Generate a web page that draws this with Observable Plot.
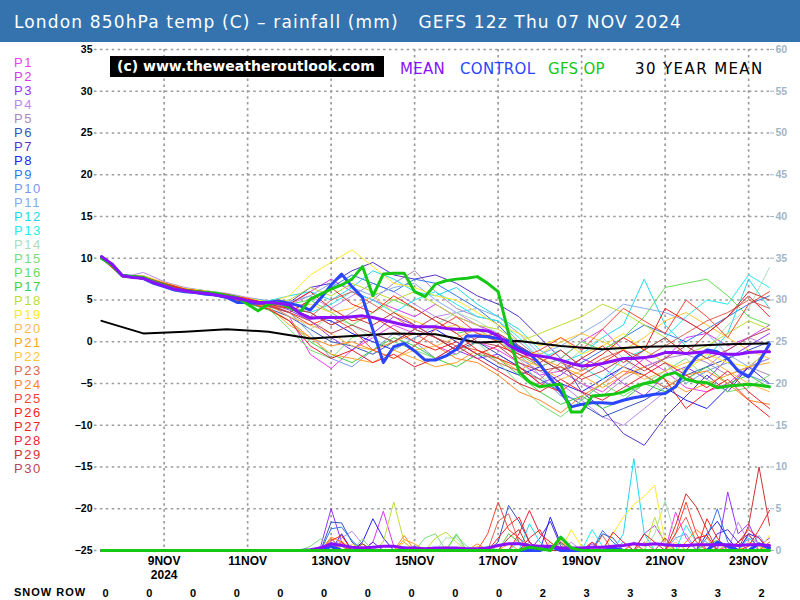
<!DOCTYPE html>
<html><head><meta charset="utf-8">
<script src="https://cdn.jsdelivr.net/npm/d3@7"></script>
<script src="https://cdn.jsdelivr.net/npm/@observablehq/plot@0.6"></script>
<style>
body{margin:0;background:#fff;}
#wrap{position:relative;width:800px;height:600px;overflow:hidden;font-family:"DejaVu Sans",sans-serif;background:#fff;}
#hdr{position:absolute;left:0;top:0;width:800px;height:42px;background:#3473ae;color:#fff;font-size:17px;letter-spacing:1.15px;line-height:45px;padding-left:14px;box-sizing:border-box;white-space:pre;}
#chart{position:absolute;left:0;top:42px;}
#legend{position:absolute;left:14px;top:56px;font-family:"Liberation Sans",sans-serif;font-size:13px;line-height:14.02px;letter-spacing:1.6px;}
#legend div{height:14.02px;}
#copy{position:absolute;left:110px;top:56px;width:274px;height:21px;background:#000;color:#fff;font-family:"DejaVu Sans",sans-serif;font-weight:bold;font-size:14px;line-height:21px;padding-left:7px;box-sizing:border-box;white-space:pre;}
.key{position:absolute;top:60px;font-family:"DejaVu Sans",sans-serif;font-size:15px;letter-spacing:0.3px;line-height:18px;white-space:pre;}
#snowlab{position:absolute;left:14px;top:586px;font-family:"Liberation Sans",sans-serif;font-weight:bold;font-size:11px;letter-spacing:1px;}
#snow{position:absolute;left:0;top:583px;}
</style></head>
<body><div id="wrap">
<div id="hdr">London 850hPa temp (C) – rainfall (mm)   GEFS 12z Thu 07 NOV 2024</div>
<div id="chart"></div>
<div id="legend"></div>
<div id="copy">(c) www.theweatheroutlook.com</div>
<div class="key" style="left:400px;color:#8a10ff">MEAN</div>
<div class="key" style="left:460px;color:#2a46ff">CONTROL</div>
<div class="key" style="left:548px;color:#14c814">GFS OP</div>
<div class="key" style="left:635px;color:#000;letter-spacing:1.4px">30 YEAR MEAN</div>
<div id="snowlab">SNOW ROW</div>
<div id="snow"></div>
</div>
<script>
// ---------- data ----------
const memberNames = d3.range(1, 31).map(i => "P" + i);
const memberColors = ["#f03cf0","#d838ee","#9a30ff","#bb88ee","#aa88bb","#3355bb","#5533cc","#2222ee","#3377ee","#7799ee",
  "#88aaee","#22d8ee","#22eeee","#aaddbb","#77dd77","#66dd55","#44cc44","#bbdd33","#ffe822","#ffbb44",
  "#ffa422","#ffc833","#dd6655","#ff8822","#ff4433","#ff2222","#ee2222","#ee2233","#cc3333","#bb4455"];

// 12-hourly 850hPa temps per member, from 7 Nov 12z
const P1 =[10.3,7.8,7.9,7.0,6.3,6.0,5.6,5.0,4.5,3.0,-1.5,-3.2,-1.0,0.5,2.0,1.0,-0.5,-1.5,0.0,-1.0,-2.5,-4.0,-3.5,-5.0,-6.0,-4.0,-2.0,-3.5,-5.5,-6.0,-5.0,-3.0,-2.0];
const P2 =[10.1,7.9,7.7,6.9,6.2,5.9,5.4,5.1,4.8,4.5,6.0,7.5,6.0,5.0,4.0,3.0,4.5,3.0,2.0,1.0,-1.0,-3.0,-2.0,0.0,1.5,-1.0,-3.0,-2.0,0.5,1.0,-0.5,0.5,2.0];
const P3 =[10.2,8.0,7.8,7.1,6.4,6.1,5.7,5.2,4.6,3.8,2.5,0.5,-1.0,1.0,3.0,2.0,0.5,-1.0,-2.0,-1.5,-3.0,-5.0,-4.0,-2.0,-3.0,-5.0,-6.5,-4.0,-3.0,-4.5,-2.0,-0.5,1.0];
const P4 =[10.0,7.7,8.3,7.2,6.5,6.1,5.8,5.3,4.9,4.5,5.5,4.0,5.5,7.0,6.0,4.5,3.0,3.5,2.0,0.5,-2.0,-3.5,-5.0,-7.0,-9.0,-10.0,-8.0,-6.0,-4.5,-3.0,-1.0,0.5,-0.5];
const P5 =[10.2,7.9,7.6,7.0,6.2,5.8,5.5,5.0,4.7,4.2,3.5,2.0,3.5,5.0,7.0,8.5,6.0,4.0,3.0,2.5,0.0,-2.0,-3.5,-5.0,-6.5,-4.5,-3.0,-2.0,-1.5,-2.5,-4.0,-3.0,-4.0];
const P6 =[10.1,7.8,7.5,6.8,6.0,5.7,5.4,4.6,4.0,3.0,1.5,0.0,-0.5,-1.5,0.0,1.5,0.5,-1.0,0.0,-1.5,-3.0,-4.5,-6.0,-7.5,-9.0,-8.0,-7.0,-5.5,-4.0,-3.0,-2.0,-1.0,0.0];
const P7 =[10.2,8.0,7.7,6.9,6.1,5.9,5.5,4.9,4.4,4.7,6.5,7.0,8.5,9.5,8.0,7.5,8.0,7.0,5.5,4.5,3.0,0.5,-2.0,-6.0,-8.0,-11.0,-12.4,-9.0,-6.5,-4.0,-6.0,-3.0,-5.0];
const P8 =[10.3,7.9,7.8,7.0,6.3,6.0,5.6,5.1,4.7,4.0,3.0,2.5,1.0,0.0,-1.0,0.5,1.5,0.0,-1.5,-3.0,-4.0,-3.0,-5.0,-6.0,-4.5,-3.0,-4.0,-5.5,-7.0,-8.0,-5.5,-3.0,-1.0];
const P9 =[10.0,7.8,7.6,6.8,6.1,5.8,5.3,4.8,4.2,3.5,5.0,6.5,8.0,7.0,6.0,7.5,7.0,5.5,4.0,2.0,-0.5,-2.0,-3.5,-2.5,-1.0,0.5,2.0,1.0,0.0,1.5,3.0,4.5,5.5];
const P10=[10.1,7.9,7.7,6.9,6.2,5.9,5.5,4.9,4.5,3.5,1.0,-2.0,-3.0,-1.0,1.0,0.0,-2.0,-0.5,1.0,0.5,-1.5,-4.0,-6.5,-7.0,-5.0,-3.0,-1.0,-2.5,-5.0,-3.5,-2.5,-4.0,-5.0];
const P11=[10.2,7.8,7.9,7.0,6.3,6.0,5.6,5.0,4.6,4.8,5.5,7.0,6.5,5.5,6.5,7.0,5.0,3.5,4.0,3.0,1.0,-1.5,-0.5,1.0,2.5,4.5,4.0,3.5,2.5,1.0,-1.5,-3.0,-2.0];
const P12=[10.3,8.0,7.8,7.0,6.4,6.1,5.7,5.2,4.9,5.5,6.0,5.0,6.5,8.5,7.5,6.0,5.5,6.5,4.5,3.0,1.5,-1.0,-2.5,-1.5,0.5,2.0,7.5,2.0,-0.5,-2.0,1.0,7.5,4.0];
const P13=[10.1,7.9,7.6,6.9,6.2,5.9,5.4,4.9,4.5,4.0,3.5,4.5,6.0,5.0,3.5,5.0,6.0,4.5,3.0,2.5,0.5,-2.0,-1.0,-3.0,-4.5,-2.0,-1.0,0.5,3.0,5.0,4.5,8.0,6.5];
const P14=[10.2,7.8,7.7,7.0,6.2,5.9,5.5,5.0,4.6,3.5,1.5,3.0,2.0,0.5,-1.0,0.5,2.0,3.5,2.5,1.0,-2.0,-5.0,-3.0,-1.0,0.5,-2.0,-4.0,-6.0,-3.0,-1.0,2.0,4.0,8.9];
const P15=[10.0,7.7,7.6,6.8,6.0,5.8,5.3,4.7,4.0,1.5,-1.0,-2.0,0.5,1.0,0.0,-1.0,-2.0,-1.5,0.0,-2.5,-5.0,-7.5,-9.0,-7.0,-5.0,-6.5,-5.0,-3.5,-2.0,-4.5,-6.0,-5.5,-4.0];
const P16=[10.2,7.9,7.8,6.9,6.3,6.0,5.6,5.1,4.7,4.5,5.0,3.5,2.0,3.5,5.0,4.0,2.5,1.0,1.5,0.0,-1.5,-3.0,-2.0,0.0,-1.0,0.5,3.0,6.5,7.0,7.5,5.5,3.0,2.0];
const P17=[10.1,7.8,7.5,6.7,6.0,5.7,5.2,4.6,3.8,2.5,0.0,-1.5,-2.5,-1.0,0.5,-0.5,-2.0,-3.0,-1.5,-2.0,-4.0,-6.0,-7.5,-6.5,-8.0,-7.0,-5.0,-6.0,-4.5,-3.0,-5.0,-4.0,-5.5];
const P18=[10.2,8.0,7.8,7.0,6.3,6.0,5.6,5.2,4.8,5.0,6.5,5.5,7.0,6.0,5.0,6.0,4.5,3.0,2.0,1.5,0.0,1.0,2.0,3.0,4.5,3.5,2.0,0.5,-1.5,-0.5,1.0,2.5,1.5];
const P19=[10.3,7.9,7.9,7.1,6.4,6.1,5.7,5.2,4.7,5.5,8.0,9.5,11.0,9.0,7.0,6.5,5.5,5.0,3.5,2.0,1.0,-0.5,0.5,-1.5,-0.5,1.0,-1.0,-2.5,-3.5,-1.5,-2.5,-3.0,-1.0];
const P20=[10.0,7.8,7.6,6.8,6.1,5.8,5.4,4.9,4.4,3.0,2.0,1.0,-0.5,-1.0,-2.0,-1.0,-0.5,0.5,1.5,0.0,-2.0,-3.0,-4.5,-3.5,-2.0,-3.0,-4.5,-3.5,-2.5,-2.0,-3.5,-5.0,-6.0];
const P21=[10.1,7.9,7.7,6.9,6.2,5.9,5.5,4.8,4.2,2.0,0.5,-1.5,-2.0,-2.5,-1.0,-2.0,-3.0,-2.5,-1.0,-2.0,-3.5,-2.0,-3.0,-4.0,-5.5,-4.0,-3.0,-4.5,-6.0,-5.0,-4.0,-3.0,-2.5];
const P22=[10.2,7.8,7.8,7.0,6.3,6.0,5.6,5.1,4.6,4.0,4.5,3.5,4.0,5.5,3.5,2.5,1.5,2.0,1.0,0.5,-1.0,-1.5,0.0,1.0,0.0,-1.0,0.5,2.5,3.5,2.0,0.5,-1.0,-2.0];
const P23=[10.1,7.9,7.5,6.7,6.0,5.7,5.3,4.7,4.3,4.0,3.0,5.0,6.0,4.5,3.0,1.5,0.5,-0.5,-1.0,-2.5,-3.5,-4.5,-2.5,-3.5,-2.0,-1.0,-2.0,-0.5,1.0,2.5,3.5,5.0,4.0];
const P24=[10.2,7.8,7.6,6.8,6.1,5.8,5.4,4.8,4.0,2.5,0.5,-0.5,0.0,-1.0,0.0,1.0,-0.5,-2.0,-2.5,-4.0,-6.0,-7.0,-8.5,-6.5,-5.0,-3.5,-4.0,-5.5,-4.0,-3.5,-5.0,-7.0,-7.5];
const P25=[10.3,8.0,7.8,7.0,6.3,6.0,5.6,5.2,4.5,3.5,2.0,3.0,1.5,-1.0,-2.0,-0.5,1.5,3.0,1.0,0.0,-2.0,-1.0,0.5,-1.0,1.5,4.0,2.5,1.0,5.0,3.0,0.5,4.5,6.0];
const P26=[10.0,7.8,7.6,6.9,6.2,5.9,5.5,4.9,4.3,3.5,5.0,6.5,4.5,3.5,5.5,4.0,2.5,1.0,-1.0,-2.0,-3.0,-5.0,-6.0,-4.0,-2.5,-1.0,-3.0,-4.5,-8.0,-6.0,-4.5,-7.0,-9.0];
const P27=[10.2,7.9,7.7,7.0,6.3,6.0,5.7,5.1,4.6,4.5,6.0,4.0,2.5,3.0,1.5,0.0,-1.0,0.0,-1.5,-0.5,-1.5,-2.5,-1.0,-3.0,-1.5,0.5,-1.0,4.0,2.5,1.0,3.0,5.5,3.0];
const P28=[10.1,7.8,7.5,6.7,6.0,5.7,5.3,4.7,3.9,2.5,-0.5,-2.0,-1.0,-2.5,-1.5,-3.0,-2.0,-0.5,-2.0,-3.5,-5.0,-6.0,-4.5,-6.0,-7.0,-5.5,-4.0,-2.5,-4.0,-5.5,-3.5,-6.0,-8.0];
const P29=[10.2,8.0,7.7,6.9,6.2,5.9,5.5,5.0,4.5,4.0,3.5,2.0,3.0,2.0,3.5,2.0,0.5,-1.0,0.5,1.0,-0.5,-2.0,-3.5,-2.0,-0.5,-2.5,-1.0,0.5,-1.5,1.0,3.0,6.0,5.0];
const P30=[10.1,7.9,7.6,6.8,6.1,5.8,5.4,4.8,4.3,3.5,2.5,1.0,2.0,1.0,0.0,1.5,3.0,2.0,0.0,-0.5,-2.5,-3.5,-3.0,-4.5,-3.5,-2.0,-3.5,-2.0,-0.5,-2.0,-1.0,0.5,1.5];
const memberTemps = [P1,P2,P3,P4,P5,P6,P7,P8,P9,P10,P11,P12,P13,P14,P15,P16,P17,P18,P19,P20,P21,P22,P23,P24,P25,P26,P27,P28,P29,P30];

// 6-hourly thick lines
const meanTemp = [10.2,9.3,7.9,7.7,7.6,7.1,6.7,6.3,6.1,5.9,5.8,5.6,5.4,5.2,4.9,4.7,4.7,4.6,4.4,3.4,2.8,2.9,2.9,2.9,3.0,3.1,2.9,2.6,2.3,2.0,1.8,1.8,1.8,1.6,1.5,1.4,1.4,1.3,0.7,-0.4,-1.1,-1.6,-1.7,-1.9,-2.2,-2.6,-2.9,-2.8,-2.6,-2.3,-2.0,-2.0,-1.9,-1.7,-1.3,-1.3,-1.4,-1.3,-1.2,-1.4,-1.5,-1.5,-1.3,-1.2,-1.2];
const controlTemp = [10.0,9.3,7.9,7.8,7.6,7.0,6.6,6.2,6.0,5.9,5.7,5.6,5.3,4.7,4.7,4.6,4.7,4.9,4.6,4.3,3.8,5.2,6.8,8.1,6.6,5.3,1.4,-2.5,-0.6,-0.2,-1.1,-2.2,-2.2,-1.7,-0.9,0.7,0.7,0.6,0.4,0.1,-0.8,-1.4,-2.7,-4.4,-6.0,-7.8,-7.5,-7.3,-7.3,-7.4,-7.0,-6.7,-6.5,-6.3,-6.2,-5.4,-3.4,-1.8,-1.0,-1.2,-2.0,-3.5,-4.2,-2.4,-0.3];
const gfsOpTemp = [10.0,9.2,7.9,7.8,7.7,7.2,6.8,6.3,6.1,6.0,5.9,5.8,5.5,5.3,4.5,3.7,4.5,4.7,4.1,3.5,5.1,5.7,6.3,6.8,7.5,9.0,5.5,8.1,8.2,8.2,6.0,5.4,6.9,7.3,7.5,7.6,7.8,7.0,6.0,1.0,-3.6,-4.8,-5.4,-5.2,-5.1,-8.4,-8.4,-6.5,-6.4,-6.3,-6.0,-5.4,-5.0,-4.8,-4.0,-3.7,-4.5,-4.8,-4.9,-5.5,-5.3,-5.2,-5.1,-5.2,-5.4];
// daily 30 year mean, 12z
const climTemp = [2.5,1.0,1.2,1.5,1.2,0.4,0.7,1.0,0.9,-0.1,0.1,-0.5,-0.9,-0.6,-0.5,-0.3,-0.2];

// rainfall (mm), 6-hourly: [member, step, mm]; all other steps read as 0
const rainSpikes = [
 [1,22,0.5],[1,23,0.8],[1,51,1.0],[1,55,4.6],[1,56,1.5],[1,60,0.5],
 [2,26,1.0],[2,27,4.7],[2,28,0.5],[2,41,1.0],[2,52,2.0],[2,53,3.0],[2,54,1.0],
 [3,21,0.5],[3,22,5.0],[3,23,1.0],[3,47,0.8],[3,60,7.0],[3,61,2.0],[3,62,3.2],[3,63,0.5],[3,64,1.5],
 [4,23,1.5],[4,24,2.3],[4,25,0.8],[4,45,1.0],[4,61,3.4],[4,62,1.0],
 [5,22,1.0],[5,40,1.5],[5,41,0.5],[5,62,1.8],[5,63,0.8],
 [6,22,3.4],[6,23,3.3],[6,24,1.0],[6,38,1.0],[6,39,5.4],[6,40,3.5],[6,41,1.0],[6,48,2.0],[6,49,1.5],
 [7,22,1.5],[7,26,1.0],[7,42,1.5],[7,43,3.5],[7,44,0.5],[7,59,2.0],[7,60,2.5],[7,61,1.0],
 [8,23,2.0],[8,25,1.0],[8,26,3.8],[8,27,1.5],[8,43,4.0],[8,44,0.8],[8,58,2.0],[8,59,3.5],[8,60,1.5],[8,62,2.0],[8,63,1.5],
 [9,22,2.6],[9,23,2.8],[9,24,1.2],[9,30,0.5],[9,48,2.4],[9,49,1.0],[9,58,1.5],[9,59,5.0],[9,60,1.0],
 [10,22,1.0],[10,25,0.5],[10,50,1.0],[10,55,1.5],[10,56,2.0],[10,63,0.8],
 [11,29,0.5],[11,47,1.0],[11,57,1.5],[11,58,1.0],[11,63,1.8],
 [12,41,3.2],[12,42,1.0],[12,50,2.0],[12,51,11.0],[12,52,2.0],[12,62,1.5],[12,63,0.5],
 [13,40,1.0],[13,47,2.5],[13,48,0.5],[13,56,3.0],[13,57,1.0],
 [14,33,1.5],[14,34,1.5],[14,53,2.0],[14,54,6.0],[14,55,1.5],[14,58,1.0],
 [15,20,0.5],[15,21,1.4],[15,22,0.5],[15,25,1.4],[15,31,1.5],[15,32,2.0],[15,34,1.8],[15,35,0.5],[15,44,0.8],[15,46,0.5],
 [16,23,0.5],[16,34,2.0],[16,43,0.5],[16,58,0.8],[16,59,1.2],
 [17,25,0.8],[17,37,0.5],[17,39,2.0],[17,40,1.0],
 [18,27,1.0],[18,28,5.8],[18,29,1.0],[18,32,1.5],[18,33,2.2],[18,34,1.0],[18,53,4.0],[18,54,0.5],
 [19,45,2.5],[19,46,0.5],[19,49,2.0],[19,50,4.0],[19,51,5.5],[19,52,6.5],[19,53,7.8],[19,54,1.0],[19,64,1.8],
 [20,23,1.2],[20,29,1.0],[20,36,0.5],[20,43,1.0],[20,55,1.0],
 [21,22,1.5],[21,29,1.3],[21,30,0.8],[21,39,0.8],[21,48,0.5],[21,60,0.8],
 [22,24,0.8],[22,33,0.5],[22,44,1.2],[22,62,1.0],[22,63,0.5],
 [23,38,3.5],[23,39,4.4],[23,40,1.0],[23,48,1.8],[23,52,1.0],[23,55,2.0],[23,56,4.0],[23,57,1.0],
 [24,22,1.6],[24,23,1.0],[24,29,1.8],[24,36,0.8],[24,51,0.8],[24,56,1.0],[24,57,2.5],[24,58,1.5],
 [25,37,2.0],[25,38,5.8],[25,39,2.5],[25,40,1.5],[25,55,2.0],[25,56,5.8],[25,57,2.0],[25,64,1.0],
 [26,22,1.2],[26,23,1.8],[26,38,1.5],[26,39,3.0],[26,40,4.0],[26,41,1.0],[26,58,3.8],[26,59,1.5],[26,62,0.5],[26,63,2.5],[26,64,4.8],
 [27,25,0.8],[27,41,1.5],[27,42,2.5],[27,47,1.0],[27,52,2.0],[27,53,1.0],[27,57,1.5],[27,58,1.8],
 [28,23,1.0],[28,40,2.0],[28,41,4.8],[28,42,2.0],[28,43,1.0],[28,49,2.2],[28,50,1.0],[28,61,1.0],[28,62,2.5],[28,63,1.5],
 [29,39,1.5],[29,40,2.5],[29,55,3.0],[29,56,6.8],[29,57,5.2],[29,58,2.5],[29,62,3.0],[29,63,10.0],[29,64,3.0],
 [30,24,0.5],[30,44,1.0],[30,54,1.5],[30,61,1.0],[30,62,2.0]
];
const meanRain = [0,0,0,0,0,0,0,0,0,0,0,0,0,0,0,0,0,0,0,0,0.1,0.3,0.8,0.6,0.4,0.3,0.4,0.5,0.5,0.3,0.3,0.2,0.3,0.3,0.3,0.2,0.2,0.3,0.6,0.8,0.8,0.6,0.5,0.5,0.3,0.3,0.3,0.4,0.4,0.5,0.6,0.8,0.7,0.8,0.7,0.6,0.6,0.7,0.7,0.7,0.7,0.6,0.7,0.7,0.6];
const controlRain = [0,0,0,0,0,0,0,0,0,0,0,0,0,0,0,0,0,0,0,0,0,0,0.5,0,0,0,0,0,0,0,0,0,0,0,0,0,0,0,0,0,0,0,0,0.5,0,0,0,0,0,0.3,0,0,0,0,0,0,0,0,0,1.0,0.5,0,0,0.8,0.3];
const gfsOpRain = [0,0,0,0,0,0,0,0,0,0,0,0,0,0,0,0,0,0,0,0,0,0,0,0,0,0,0,0,0,0,0,0,0,0,0,0,0,0,0,0,0,0.4,0.2,0,1.6,0.3,0,0,0,0,0,0,0,0,0,0,0,0,0,0,0,0,0,0,0];

const tickDays = [9,11,13,15,17,19,21,23];
const snowRow = [0,0,0,0,0,0,0,0,0,0,2,3,3,3,3,2];
const yTicks = d3.range(-25, 36, 5);

// ---------- build tables ----------
const HR = 3600e3;
const t0 = Date.UTC(2024, 10, 7, 12);
const at = h => new Date(t0 + h * HR);
const RAIN0 = -25; // rain axis 0 sits on the -25 temp line, same units
const memberRows = memberTemps.flatMap((arr, m) => arr.map((v, i) => ({m: memberNames[m], t: at(i * 12), v})));
const spikeMap = new Map(rainSpikes.map(([m, j, v]) => [m + "-" + j, v]));
const rainRows = memberNames.flatMap((name, m) => d3.range(65).map(j => ({m: name, t: at(j * 6), v: RAIN0 + (spikeMap.get((m + 1) + "-" + j) || 0)})));
const six = arr => arr.map((v, i) => ({t: at(i * 6), v}));
const sixRain = arr => arr.map((v, i) => ({t: at(i * 6), v: RAIN0 + v}));
const climRows = climTemp.map((v, i) => ({t: at(i * 24), v}));
const tickDates = tickDays.map(d => new Date(Date.UTC(2024, 10, d)));

const grid = {stroke: "#9c9c9c", strokeOpacity: 1, strokeWidth: 1.7, strokeDasharray: "2.5,3.4"};

const chart = Plot.plot({
  width: 800, height: 558,
  marginTop: 7, marginBottom: 50, marginLeft: 101, marginRight: 31,
  x: {type: "utc", domain: [at(0), at(384)], label: null},
  y: {domain: [-25, 35], label: null},
  color: {type: "ordinal", domain: memberNames, range: memberColors},
  style: {fontFamily: "Liberation Sans, sans-serif", background: "transparent", overflow: "visible"},
  marks: [
    Plot.gridY(yTicks, {...grid, insetLeft: -7}),
    Plot.gridX(tickDates, grid),
    Plot.axisY(yTicks, {anchor: "left", tickSize: 0, tickPadding: 9, fontWeight: "bold", fontSize: 10.5, fill: "#000", label: null}),
    Plot.axisY(yTicks, {anchor: "right", tickSize: 4, tickPadding: 2, tickFormat: d => String(d + 25), color: "#9fb6c8", fontWeight: "bold", fontSize: 10.5, label: null}),
    Plot.axisX(tickDates, {anchor: "bottom", tickSize: 0, tickPadding: 5, fontWeight: "bold", fontSize: 12, lineHeight: 1.15, fill: "#000",
      tickFormat: d => d.getUTCDate() === 9 ? "9NOV\n2024" : d.getUTCDate() + "NOV", label: null}),
    Plot.line(memberRows, {x: "t", y: "v", z: "m", stroke: "m", strokeWidth: 1}),
    Plot.line(rainRows, {x: "t", y: "v", z: "m", stroke: "m", strokeWidth: 1}),
    Plot.line(climRows, {x: "t", y: "v", stroke: "#000", strokeWidth: 2}),
    Plot.line(six(controlTemp), {x: "t", y: "v", stroke: "#2a46ff", strokeWidth: 3}),
    Plot.line(six(gfsOpTemp), {x: "t", y: "v", stroke: "#14c814", strokeWidth: 3}),
    Plot.line(six(meanTemp), {x: "t", y: "v", stroke: "#8a10ff", strokeWidth: 3}),
    Plot.line(sixRain(controlRain), {x: "t", y: "v", stroke: "#2a46ff", strokeWidth: 3}),
    Plot.line(sixRain(meanRain), {x: "t", y: "v", stroke: "#8a10ff", strokeWidth: 3}),
    Plot.line(sixRain(gfsOpRain), {x: "t", y: "v", stroke: "#14c814", strokeWidth: 3})
  ]
});
document.getElementById("chart").appendChild(chart);

// legend P1..P30
const leg = document.getElementById("legend");
memberNames.forEach((n, i) => {
  const d = document.createElement("div");
  d.textContent = n; d.style.color = memberColors[i];
  leg.appendChild(d);
});

// snow row
const snow = Plot.plot({
  width: 800, height: 20, margin: 0,
  x: {type: "linear", domain: [0, snowRow.length - 1], range: [105, 761], axis: null},
  y: {axis: null},
  style: {fontFamily: "Liberation Sans, sans-serif", background: "transparent"},
  marks: [Plot.text(snowRow, {x: (d, i) => i, text: d => String(d), frameAnchor: "middle", fontWeight: "bold", fontSize: 11, fill: "#000"})]
});
document.getElementById("snow").appendChild(snow);
</script>
</body></html>
